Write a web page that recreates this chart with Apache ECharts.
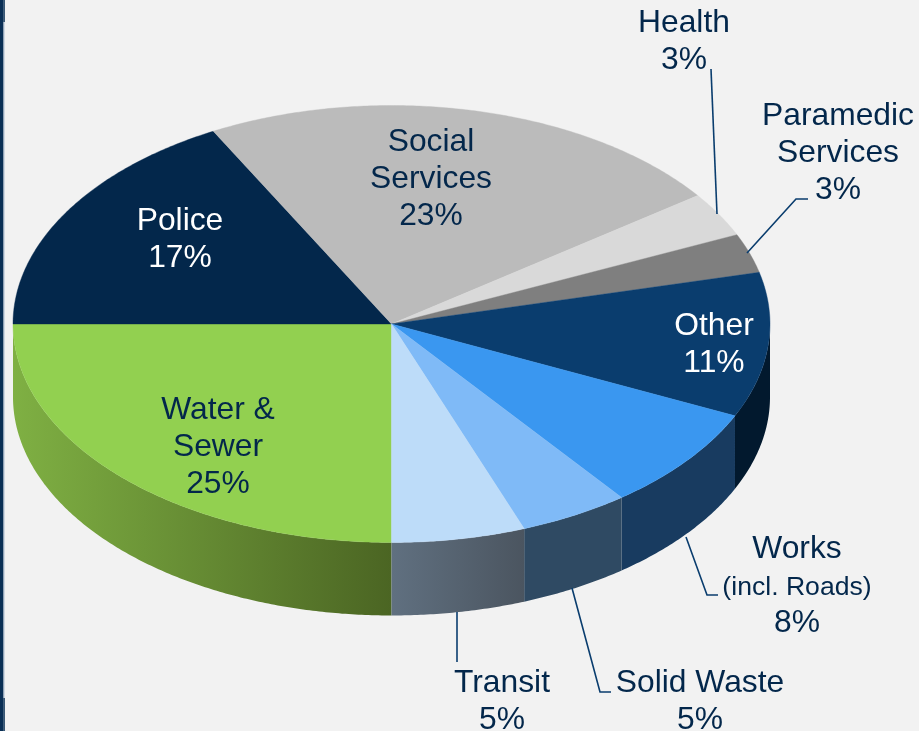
<!DOCTYPE html>
<html><head><meta charset="utf-8">
<style>html,body{margin:0;padding:0;background:#f2f2f2}#c{width:919px;height:731px}</style>
<script src="https://cdn.jsdelivr.net/npm/echarts@6/dist/echarts.min.js"></script>
</head><body><div id="c"></div>
<script>
// Data, clockwise from the straight-down direction
const categories = ['Water & Sewer','Police','Social Services','Health','Paramedic Services','Other','Works (incl. Roads)','Solid Waste','Transit'];
const percentLabels = [25,17,23,3,3,11,8,5,5];
// Slice sizes (its perspective shifts them slightly from the printed percentages)
const drawnShares = [25,17.2,22.8,3.3,2.9,10.7,7.7,4.7,5.7];

// Styles
const topColors = ['#92d050','#03274b','#bbbbbb','#d9d9d9','#7f7f7f','#0a3d6e','#3a97f0','#7fbaf7','#bddcf9'];
const wallColors = [['#7fb043','#4b6523'],null,null,null,null,['#02192e','#02192e'],['#183b60','#183b60'],['#2f4a63','#2f4a63'],['#607080','#4b5560']];
const DEPTH = 73, INK = '#03274b', LINE = '#0a3d6e', FS = 31.8, LH = 37, FONT = '"Liberation Sans", Arial, sans-serif';

// Label layout: [category index, text, x, first-line y, colour]
const labelLayout = [
  [0,'Water &\nSewer',218,410,INK],
  [1,'Police',180,221,'#ffffff'],
  [2,'Social\nServices',431,142,INK],
  [3,'Health',684,23,INK],
  [4,'Paramedic\nServices',838,116,INK],
  [5,'Other',714,326,'#ffffff'],
  [8,'Transit',502,683,INK],
  [7,'Solid Waste',700,683,INK]
];
const leaders = [
  [[711,69],[717,214]],
  [[808,199],[796,199],[747,253]],
  [[686,537],[707,595],[718,595]],
  [[572,588],[600,692],[611,692]],
  [[457,612],[457,662]]
];

const total = drawnShares.reduce((a,b)=>a+b,0);
let acc = 0;
const sliceData = drawnShares.map((v,i)=>{const s=acc; acc+=v; return {name:categories[i],value:[s/total*360,(s+v)/total*360,v]};});
const unit = deg => {const r=deg*Math.PI/180; return [-Math.sin(r),-Math.cos(r)];};
const arc = (a,b) => {const n=Math.max(2,Math.ceil((b-a)/0.5)),p=[];for(let i=0;i<=n;i++)p.push(unit(a+(b-a)*i/n));return p;};

function renderSlice(params, api){
  const i = params.dataIndex, a = api.value(0), b = api.value(1);
  const children = [];
  const rim = (x,y) => api.coord([x,y]);
  // Side wall: only the front half of the rim shows
  [[0,90],[270,360]].forEach(([lo,hi])=>{
    const s=Math.max(a,lo), e=Math.min(b,hi);
    if(e>s && wallColors[i]){
      const up = arc(s,e).map(p=>rim(p[0],p[1]));
      const down = up.slice().reverse().map(p=>[p[0],p[1]+DEPTH]);
      children.push({type:'polygon',shape:{points:up.concat(down)},
        style:{fill:new echarts.graphic.LinearGradient(0,0,1,0,[{offset:0,color:wallColors[i][0]},{offset:1,color:wallColors[i][1]}])}});
    }
  });
  const pts = [rim(0,0)].concat(arc(a,b).map(p=>rim(p[0],p[1])));
  children.push({type:'polygon',z2:10,shape:{points:pts},style:{fill:topColors[i],stroke:topColors[i],lineWidth:0.4}});
  return {type:'group',children};
}

const pct = i => percentLabels[i]+'%';
const textEl = (t,x,y,fill,size) => ({type:'text',z:20,x,y,silent:true,
  style:{text:t,fill,font:`${size||FS}px ${FONT}`,align:'center',verticalAlign:'middle',lineHeight:LH}});

const graphics = [
  {type:'rect',z:20,silent:true,shape:{x:0,y:0,width:3.6,height:731},style:{fill:'#0a2f55'}},
  {type:'rect',z:20,silent:true,shape:{x:3.6,y:0,width:1.2,height:22},style:{fill:'#0a2f55'}},
  {type:'rect',z:20,silent:true,shape:{x:3.6,y:22,width:1.4,height:676},style:{fill:'#cfd8e3'}},
  {type:'rect',z:20,silent:true,shape:{x:3.6,y:698,width:1.2,height:33},style:{fill:'#0a2f55'}}
];
leaders.forEach(p=>graphics.push({type:'polyline',z:15,silent:true,shape:{points:p},style:{stroke:LINE,lineWidth:1.6,fill:null}}));
labelLayout.forEach(([i,t,x,y,c])=>{
  const lines = t.split('\n').length;
  graphics.push(textEl(t+'\n'+pct(i), x, y - LH/2 + (lines+1)*LH/2, c));
});
graphics.push(textEl(categories[6].split(' (')[0],797,549,INK));
graphics.push(textEl('('+categories[6].split(' (')[1],797,588,INK,26.6));
graphics.push(textEl(pct(6),797,623,INK));

const chart = echarts.init(document.getElementById('c'),null,{renderer:'canvas',width:919,height:731});
chart.setOption({
  animation:false,
  backgroundColor:'#f2f2f2',
  grid:{left:13,right:149,top:105.5,bottom:188.5,containLabel:false},
  xAxis:{type:'value',min:-1,max:1,show:false},
  yAxis:{type:'value',min:-1,max:1,show:false},
  tooltip:{show:false},
  series:[{type:'custom',coordinateSystem:'cartesian2d',renderItem:renderSlice,data:sliceData,
           encode:{x:0,y:1},clip:false,silent:true}],
  graphic:graphics
});
</script></body></html>
